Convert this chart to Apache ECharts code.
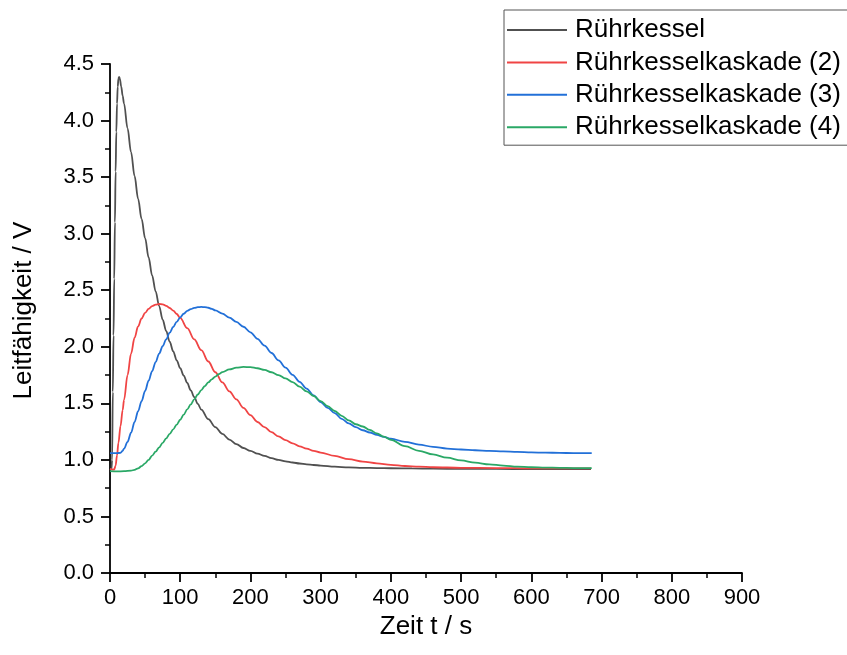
<!DOCTYPE html>
<html>
<head>
<meta charset="utf-8">
<script src="https://cdn.jsdelivr.net/npm/echarts@6/dist/echarts.min.js"></script>
<style>
  html, body { margin: 0; padding: 0; background: #fff; }
  #chart { width: 847px; height: 655px; }
</style>
</head>
<body>
<div id="chart"></div>
<script>
// Leitfähigkeit über der Zeit für Rührkessel und Rührkesselkaskaden
const seriesNames = ['Rührkessel', 'Rührkesselkaskade (2)', 'Rührkesselkaskade (3)', 'Rührkesselkaskade (4)'];
const seriesColors = ['#505050', '#f04444', '#2270d8', '#2aa866'];

const xTicks = [0, 100, 200, 300, 400, 500, 600, 700, 800, 900];
const yTicks = [0.0, 0.5, 1.0, 1.5, 2.0, 2.5, 3.0, 3.5, 4.0, 4.5];

// Rührkessel
const t1 = [0, 2, 3, 4, 5, 6, 7, 8, 9, 10, 11, 12, 13, 14, 16, 18, 20, 25, 30, 35, 40, 45, 50, 55, 60, 65, 70, 75, 80, 85, 90, 95, 100, 105, 110, 115, 120, 125, 130, 140, 150, 160, 170, 180, 190, 200, 210, 220, 230, 240, 250, 260, 270, 280, 290, 300, 320, 340, 360, 380, 400, 430, 460, 500, 550, 600, 650, 685];
const v1 = [0.92, 0.92, 1.0, 1.6, 2.1, 2.6, 3.1, 3.55, 3.9, 4.15, 4.3, 4.37, 4.385, 4.37, 4.3, 4.22, 4.15, 3.93, 3.72, 3.51, 3.31, 3.13, 2.96, 2.79, 2.63, 2.49, 2.36, 2.24, 2.14, 2.045, 1.96, 1.88, 1.81, 1.745, 1.68, 1.615, 1.555, 1.495, 1.445, 1.36, 1.29, 1.23, 1.18, 1.14, 1.105, 1.08, 1.055, 1.035, 1.015, 1.0, 0.987, 0.977, 0.968, 0.96, 0.955, 0.95, 0.94, 0.933, 0.93, 0.928, 0.926, 0.925, 0.922, 0.92, 0.92, 0.918, 0.92, 0.918];

// Rührkesselkaskade (2)
const t2 = [0, 3, 6, 8, 10, 12, 15, 18, 20, 25, 30, 35, 40, 45, 50, 55, 60, 65, 70, 75, 80, 85, 90, 95, 100, 110, 120, 130, 140, 150, 160, 170, 180, 190, 200, 210, 220, 230, 240, 250, 260, 270, 280, 290, 300, 320, 340, 360, 380, 400, 420, 440, 460, 500, 550, 600, 650, 685];
const v2 = [0.92, 0.915, 0.915, 0.95, 1.04, 1.15, 1.30, 1.44, 1.53, 1.75, 1.94, 2.08, 2.18, 2.25, 2.30, 2.335, 2.36, 2.372, 2.378, 2.375, 2.362, 2.343, 2.32, 2.29, 2.255, 2.165, 2.065, 1.97, 1.87, 1.775, 1.685, 1.605, 1.535, 1.46, 1.395, 1.335, 1.29, 1.245, 1.207, 1.175, 1.146, 1.12, 1.10, 1.08, 1.065, 1.035, 1.006, 0.985, 0.97, 0.956, 0.946, 0.94, 0.935, 0.93, 0.928, 0.925, 0.925, 0.925];

// Rührkesselkaskade (3)
const t3 = [0, 5, 10, 15, 18, 20, 25, 30, 35, 40, 45, 50, 55, 60, 65, 70, 75, 80, 85, 90, 95, 100, 105, 110, 115, 120, 125, 130, 135, 140, 145, 150, 160, 170, 180, 190, 200, 210, 220, 230, 240, 250, 260, 270, 280, 290, 300, 310, 320, 330, 340, 350, 360, 370, 380, 390, 400, 420, 440, 460, 480, 500, 520, 540, 560, 580, 600, 620, 640, 660, 686];
const v3 = [1.06, 1.06, 1.06, 1.062, 1.08, 1.10, 1.16, 1.24, 1.335, 1.43, 1.52, 1.61, 1.70, 1.785, 1.865, 1.94, 2.005, 2.065, 2.125, 2.175, 2.22, 2.26, 2.292, 2.317, 2.333, 2.344, 2.35, 2.352, 2.35, 2.345, 2.335, 2.322, 2.293, 2.258, 2.22, 2.177, 2.128, 2.07, 2.01, 1.945, 1.88, 1.815, 1.752, 1.69, 1.63, 1.57, 1.512, 1.46, 1.413, 1.362, 1.322, 1.29, 1.262, 1.242, 1.222, 1.203, 1.187, 1.16, 1.135, 1.115, 1.10, 1.092, 1.085, 1.08, 1.075, 1.07, 1.066, 1.064, 1.062, 1.06, 1.06];

// Rührkesselkaskade (4)
const t4 = [0, 10, 20, 30, 35, 40, 45, 50, 55, 60, 65, 70, 75, 80, 85, 90, 95, 100, 105, 110, 115, 120, 125, 130, 135, 140, 145, 150, 155, 160, 170, 180, 190, 200, 210, 220, 230, 240, 250, 260, 270, 280, 290, 300, 310, 320, 330, 340, 350, 360, 370, 380, 390, 400, 420, 440, 460, 480, 500, 520, 540, 560, 580, 600, 620, 640, 660, 686];
const v4 = [0.90, 0.898, 0.90, 0.905, 0.912, 0.925, 0.945, 0.97, 1.0, 1.037, 1.073, 1.11, 1.15, 1.19, 1.23, 1.27, 1.312, 1.355, 1.40, 1.447, 1.49, 1.535, 1.578, 1.617, 1.653, 1.685, 1.712, 1.737, 1.758, 1.776, 1.80, 1.815, 1.822, 1.82, 1.81, 1.795, 1.775, 1.75, 1.72, 1.688, 1.647, 1.606, 1.565, 1.52, 1.475, 1.432, 1.39, 1.35, 1.315, 1.295, 1.265, 1.235, 1.205, 1.177, 1.122, 1.08, 1.048, 1.02, 0.995, 0.975, 0.96, 0.95, 0.941, 0.935, 0.932, 0.93, 0.928, 0.928];

const times = [t1, t2, t3, t4];
const values = [v1, v2, v3, v4];

const FONT = '"Liberation Sans", Arial, sans-serif';

const chart = echarts.init(document.getElementById('chart'), null, { renderer: 'canvas' });

const series = seriesNames.map((name, i) => ({
  name: name,
  type: 'line',
  data: times[i].map((t, k) => [t, values[i][k]]),
  symbol: 'none',
  showSymbol: false,
  smooth: 0.35,
  smoothMonotone: 'x',
  lineStyle: { color: seriesColors[i], width: 1.8 },
  itemStyle: { color: seriesColors[i] },
  animation: false
}));

chart.setOption({
  animation: false,
  backgroundColor: '#fff',
  grid: { left: 110, top: 64, width: 632, height: 509, containLabel: false },
  legend: {
    orient: 'vertical',
    left: 504,
    top: 10,
    padding: [7, 30, 5, 3],
    icon: 'rect',
    itemWidth: 60,
    itemHeight: 2,
    itemGap: 6.4,
    borderColor: '#555',
    borderWidth: 1,
    backgroundColor: '#fff',
    textStyle: { fontFamily: FONT, fontSize: 26, color: '#000', lineHeight: 26, padding: [0, 0, 0, 3] },
    data: seriesNames
  },
  xAxis: {
    type: 'value',
    min: xTicks[0],
    max: xTicks[xTicks.length - 1],
    interval: 100,
    name: 'Zeit t / s',
    nameLocation: 'middle',
    nameGap: 40,
    nameTextStyle: { fontFamily: FONT, fontSize: 26, color: '#000' },
    axisLine: { show: true, onZero: false, lineStyle: { color: '#000', width: 1.8 } },
    axisTick: { show: true, inside: false, length: 9, lineStyle: { color: '#000', width: 1.8 } },
    minorTick: { show: true, splitNumber: 2, length: 5, lineStyle: { color: '#000', width: 1.5 } },
    axisLabel: { fontFamily: FONT, fontSize: 22, color: '#000', margin: 14 },
    splitLine: { show: false }
  },
  yAxis: {
    type: 'value',
    min: yTicks[0],
    max: yTicks[yTicks.length - 1],
    interval: 0.5,
    name: 'Leitfähigkeit / V',
    nameLocation: 'middle',
    nameGap: 73,
    nameTextStyle: { fontFamily: FONT, fontSize: 26, color: '#000', padding: [0, 0, 0, 16] },
    axisLine: { show: true, onZero: false, lineStyle: { color: '#000', width: 1.8 } },
    axisTick: { show: true, inside: false, length: 9, lineStyle: { color: '#000', width: 1.8 } },
    minorTick: { show: true, splitNumber: 2, length: 5, lineStyle: { color: '#000', width: 1.5 } },
    axisLabel: {
      fontFamily: FONT, fontSize: 22, color: '#000', margin: 16,
      formatter: v => v.toFixed(1)
    },
    splitLine: { show: false }
  },
  series: series
});
</script>
</body>
</html>
